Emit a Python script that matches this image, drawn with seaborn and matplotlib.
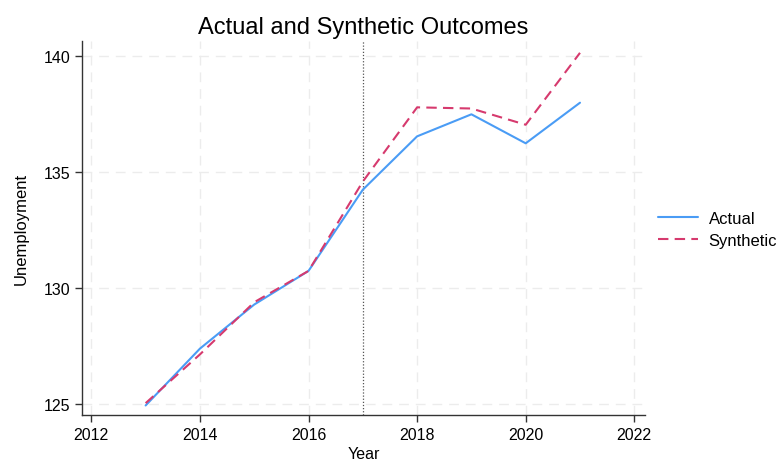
import matplotlib
matplotlib.use("Agg")
import matplotlib.pyplot as plt
import seaborn as sns
import pandas as pd

years = [2013, 2014, 2015, 2016, 2017, 2018, 2019, 2020, 2021]
actual = [124.95, 127.4, 129.3, 130.75, 134.25, 136.55, 137.5, 136.25, 138.0]
synthetic = [125.05, 127.15, 129.4, 130.75, 134.6, 137.8, 137.75, 137.05, 140.15]
treatment_year = 2017
x_ticks = [2012, 2014, 2016, 2018, 2020, 2022]
y_ticks = [125, 130, 135, 140]

df = pd.DataFrame({
    "Year": years * 2,
    "Unemployment": actual + synthetic,
    "Series": ["Actual"] * len(years) + ["Synthetic"] * len(years),
})

sns.set_theme(style="white")
plt.rcParams["font.family"] = ["Liberation Sans", "DejaVu Sans"]
plt.rcParams["text.color"] = "black"
plt.rcParams["axes.labelcolor"] = "black"
plt.rcParams["xtick.color"] = "black"
plt.rcParams["ytick.color"] = "black"

fig = plt.figure(figsize=(7.82, 4.64), dpi=100)
ax = fig.add_axes([0.105, 0.103, 0.72, 0.806])

palette = {"Actual": "#4a9cf5", "Synthetic": "#d63a6e"}
sns.lineplot(data=df, x="Year", y="Unemployment", hue="Series", style="Series",
             palette=palette, dashes={"Actual": "", "Synthetic": (5, 3)},
             linewidth=1.5, ax=ax)

ax.axvline(treatment_year, color="#555555", linestyle=(0, (1, 1.5)), linewidth=0.9, zorder=1)

ax.set_xlim(2011.83, 2022.2)
ax.set_ylim(124.53, 140.65)
ax.set_xticks(x_ticks)
ax.set_yticks(y_ticks)
ax.grid(True, linestyle=(0, (7, 5)), color="#ececec", linewidth=1.0)
ax.set_axisbelow(True)

for s in ["top", "right"]:
    ax.spines[s].set_visible(False)
for s in ["left", "bottom"]:
    ax.spines[s].set_color("#333333")
    ax.spines[s].set_linewidth(1.0)
ax.tick_params(axis="both", which="both", direction="out", length=5, width=1,
               color="#333333", labelsize=11.5, left=True, bottom=True)

ax.set_title("Actual and Synthetic Outcomes", fontsize=17, pad=6)
ax.set_xlabel("Year", fontsize=11.5, labelpad=3)
ax.set_ylabel("Unemployment", fontsize=12, labelpad=11)

handles, labels = ax.get_legend_handles_labels()
ax.legend(handles=handles, labels=labels, loc="center left", bbox_to_anchor=(1.0, 0.497),
          frameon=False, fontsize=12, handlelength=2.35, handletextpad=0.65,
          labelspacing=0.45, borderaxespad=0.6, borderpad=0.2, title=None)

fig.savefig("out.png", dpi=100)
